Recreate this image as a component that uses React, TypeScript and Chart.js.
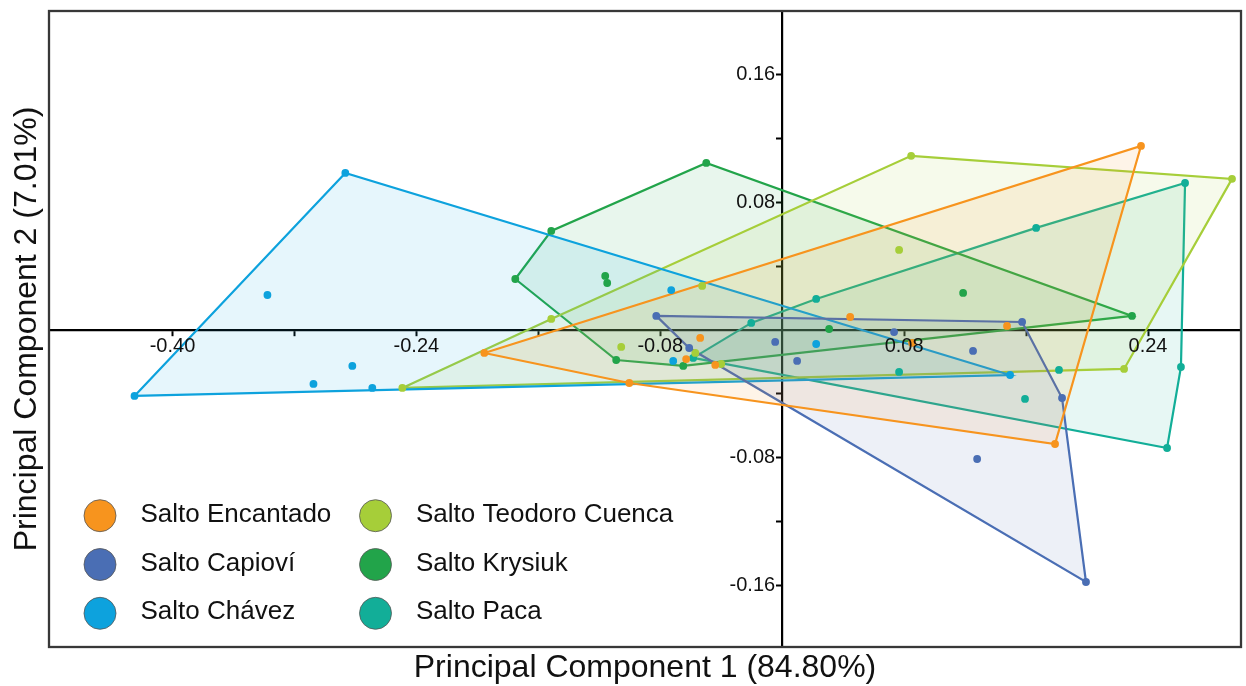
import { useEffect, useRef } from 'react';
import { Chart, registerables } from 'chart.js';

Chart.register(...registerables);

const FONT = '"Liberation Sans", Arial, Helvetica, sans-serif';

const GROUPS = ['Salto Encantado', 'Salto Capioví', 'Salto Chávez', 'Salto Teodoro Cuenca', 'Salto Krysiuk', 'Salto Paca'];
const COLORS = ['#F7941E', '#4A6EB4', '#0DA2DD', '#A6CE39', '#22A44A', '#12AE98'];

const ENCANTADO_PC1 = [0.2354, -0.1954, -0.1003, 0.1790, -0.0538, -0.0630, -0.0439, 0.0446, 0.1475, 0.0852];
const ENCANTADO_PC2 = [0.1152, -0.0144, -0.0332, -0.0714, -0.0050, -0.0182, -0.0219, 0.0081, 0.0025, -0.0081];

const CAPIOVI_PC1 = [-0.0826, -0.0610, -0.0046, 0.0098, 0.0734, 0.1252, 0.1574, 0.1836, 0.1279, 0.1993];
const CAPIOVI_PC2 = [0.0088, -0.0113, -0.0075, -0.0194, -0.0013, -0.0131, 0.0050, -0.0426, -0.0808, -0.1578];

const CHAVEZ_PC1 = [-0.2866, -0.3377, -0.4249, -0.3075, -0.2820, -0.2689, -0.0728, -0.0715, 0.0223, 0.1495];
const CHAVEZ_PC2 = [0.0983, 0.0219, -0.0413, -0.0338, -0.0225, -0.0363, 0.0250, -0.0194, -0.0088, -0.0282];

const TEODORO_PC1 = [0.0846, 0.2951, 0.2243, -0.2492, -0.1515, -0.0525, -0.1056, -0.0570, -0.0400, 0.0767];
const TEODORO_PC2 = [0.1090, 0.0946, -0.0244, -0.0363, 0.0069, 0.0276, -0.0106, -0.0144, -0.0213, 0.0501];

const KRYSIUK_PC1 = [-0.0498, -0.1515, -0.1751, -0.1161, -0.1148, -0.1089, -0.0649, 0.2295, 0.0308, 0.1187];
const KRYSIUK_PC2 = [0.1046, 0.0620, 0.0319, 0.0338, 0.0294, -0.0188, -0.0225, 0.0088, 0.0006, 0.0232];

const PACA_PC1 = [0.2643, 0.1666, 0.0223, -0.0203, -0.0584, 0.2616, 0.2525, 0.0767, 0.1816, 0.1593];
const PACA_PC2 = [0.0920, 0.0639, 0.0194, 0.0044, -0.0175, -0.0232, -0.0739, -0.0263, -0.0250, -0.0432];

const GROUP_PC1 = [ENCANTADO_PC1, CAPIOVI_PC1, CHAVEZ_PC1, TEODORO_PC1, KRYSIUK_PC1, PACA_PC1];
const GROUP_PC2 = [ENCANTADO_PC2, CAPIOVI_PC2, CHAVEZ_PC2, TEODORO_PC2, KRYSIUK_PC2, PACA_PC2];

const X_MIN = -0.481;
const X_MAX = 0.301;
const Y_MIN = -0.1985;
const Y_MAX = 0.1997;

const X_TICKS = [-0.40, -0.32, -0.24, -0.16, -0.08, 0.08, 0.16, 0.24];
const X_TICK_LABELS = ['-0.40', '', '-0.24', '', '-0.08', '0.08', '', '0.24'];
const Y_TICKS = [-0.16, -0.12, -0.08, -0.04, 0.04, 0.08, 0.12, 0.16];
const Y_TICK_LABELS = ['-0.16', '', '-0.08', '', '', '0.08', '', '0.16'];

const X_TITLE = 'Principal Component 1 (84.80%)';
const Y_TITLE = 'Principal Component 2 (7.01%)';

// PC1 value where the right edge of the PC2 tick labels sits (just left of the PC2 axis line)
const Y_LABEL_ANCHOR = -0.0046;

type P = { x: number; y: number };

function convexHull(xs: number[], ys: number[]): P[] {
  const pts: P[] = xs.map((x, i) => ({ x, y: ys[i] })).sort((a, b) => a.x - b.x || a.y - b.y);
  const cross = (o: P, a: P, b: P) => (a.x - o.x) * (b.y - o.y) - (a.y - o.y) * (b.x - o.x);
  const lower: P[] = [];
  for (const p of pts) {
    while (lower.length >= 2 && cross(lower[lower.length - 2], lower[lower.length - 1], p) <= 0) lower.pop();
    lower.push(p);
  }
  const upper: P[] = [];
  for (const p of pts.slice().reverse()) {
    while (upper.length >= 2 && cross(upper[upper.length - 2], upper[upper.length - 1], p) <= 0) upper.pop();
    upper.push(p);
  }
  lower.pop();
  upper.pop();
  const h = lower.concat(upper);
  h.push({ ...h[0] });
  return h;
}

function rgba(hex: string, a: number) {
  const n = parseInt(hex.slice(1), 16);
  return `rgba(${(n >> 16) & 255},${(n >> 8) & 255},${n & 255},${a})`;
}

const framePlugin = {
  id: 'frame',
  afterDraw(chart: any) {
    const { ctx, chartArea: a } = chart;
    ctx.save();
    ctx.strokeStyle = '#383838';
    ctx.lineWidth = 2.3;
    ctx.strokeRect(a.left, a.top, a.right - a.left, a.bottom - a.top);
    ctx.restore();
  },
};

const legendPlugin = {
  id: 'pcaLegend',
  afterDraw(chart: any) {
    const { ctx, chartArea: a } = chart;
    const items = chart.data.datasets.filter((d: any) => d.type === 'scatter');
    ctx.save();
    items.forEach((d: any, i: number) => {
      const col = Math.floor(i / 3);
      const row = i % 3;
      const cx = a.left + 51 + col * 275.5;
      const cy = a.bottom - 131.3 + row * 48.8;
      ctx.beginPath();
      ctx.arc(cx, cy, 16, 0, Math.PI * 2);
      ctx.fillStyle = d.backgroundColor;
      ctx.fill();
      ctx.lineWidth = 0.8;
      ctx.strokeStyle = '#555';
      ctx.stroke();
      ctx.font = `26px ${FONT}`;
      ctx.fillStyle = '#111';
      ctx.textBaseline = 'middle';
      ctx.textAlign = 'left';
      ctx.fillText(d.label, cx + 40.5, cy - 1);
    });
    ctx.restore();
  },
};

export default function App() {
  const ref = useRef<HTMLCanvasElement | null>(null);

  useEffect(() => {
    if (!ref.current) return;
    const hullSets = GROUPS.map((g, i) => ({
      type: 'line' as const,
      label: g + ' hull',
      data: convexHull(GROUP_PC1[i], GROUP_PC2[i]),
      borderColor: COLORS[i],
      backgroundColor: rgba(COLORS[i], 0.1),
      borderWidth: 2.2,
      fill: 'shape' as any,
      pointRadius: 0,
      tension: 0,
      order: 1,
      xAxisID: 'x',
      yAxisID: 'y',
    }));
    const pointSets = GROUPS.map((g, i) => ({
      type: 'scatter' as const,
      label: g,
      data: GROUP_PC1[i].map((x, j) => ({ x, y: GROUP_PC2[i][j] })),
      backgroundColor: COLORS[i],
      borderColor: COLORS[i],
      borderWidth: 0,
      pointRadius: 3.9,
      order: 0,
      xAxisID: 'x',
      yAxisID: 'y',
    }));

    const tickFont = { size: 20, family: FONT };
    const titleFont = { size: 32, family: FONT, lineHeight: 1.1 };

    const chart = new Chart(ref.current, {
      type: 'scatter',
      data: { datasets: [...pointSets, ...hullSets] as any },
      options: {
        animation: false,
        responsive: false,
        events: [],
        layout: { padding: { top: 11, right: 5, bottom: 0, left: 0 } },
        plugins: { legend: { display: false }, tooltip: { enabled: false } },
        scales: {
          x: {
            type: 'linear',
            min: X_MIN,
            max: X_MAX,
            position: { y: 0 } as any,
            afterBuildTicks: (s: any) => { s.ticks = X_TICKS.map((v) => ({ value: v })); },
            afterFit: (s: any) => { s.height = 0; s.paddingLeft = 0; s.paddingRight = 0; },
            ticks: {
              autoSkip: false, maxRotation: 0, minRotation: 0, padding: 0, color: '#111', font: tickFont, z: 1,
              callback: (_v: any, idx: number) => X_TICK_LABELS[idx] ?? '',
            },
            grid: { display: true, drawOnChartArea: false, drawTicks: true, tickLength: 5, tickWidth: 2, tickColor: '#000' },
            border: { display: true, color: '#000', width: 2.2 },
          },
          y: {
            type: 'linear',
            min: Y_MIN,
            max: Y_MAX,
            position: { x: 0 } as any,
            afterBuildTicks: (s: any) => { s.ticks = Y_TICKS.map((v) => ({ value: v })); },
            afterFit: (s: any) => { s.width = 0; s.paddingTop = 0; s.paddingBottom = 0; },
            ticks: { display: false },
            grid: { display: true, drawOnChartArea: false, drawTicks: true, tickLength: 5, tickWidth: 2, tickColor: '#000' },
            border: { display: true, color: '#000', width: 2.2 },
          },
          yt: {
            type: 'linear',
            axis: 'y',
            min: Y_MIN,
            max: Y_MAX,
            position: { x: Y_LABEL_ANCHOR } as any,
            afterBuildTicks: (s: any) => { s.ticks = Y_TICKS.map((v) => ({ value: v })); },
            afterFit: (s: any) => { s.width = 0; s.paddingTop = 0; s.paddingBottom = 0; },
            ticks: {
              autoSkip: false, padding: 0, color: '#111', font: tickFont, z: 1,
              callback: (_v: any, idx: number) => Y_TICK_LABELS[idx] ?? '',
            },
            grid: { display: false, drawTicks: false },
            border: { display: false },
          },
          xb: {
            type: 'linear',
            axis: 'x',
            position: 'bottom',
            min: X_MIN,
            max: X_MAX,
            ticks: { display: false },
            grid: { display: false, drawTicks: false },
            border: { display: false },
            title: { display: true, text: X_TITLE, color: '#111', font: titleFont, padding: { top: 3.8, bottom: 0 } },
          },
          yl: {
            type: 'linear',
            axis: 'y',
            position: 'left',
            min: Y_MIN,
            max: Y_MAX,
            ticks: { display: false },
            grid: { display: false, drawTicks: false },
            border: { display: false },
            title: { display: true, text: Y_TITLE, color: '#111', font: titleFont, padding: { top: 9.4, bottom: 4.4 } },
          },
        } as any,
      },
      plugins: [framePlugin, legendPlugin],
    });
    return () => chart.destroy();
  }, []);

  return (
    <div style={{ position: 'absolute', left: 0, top: 0, width: 1246, height: 686, background: '#fff' }}>
      <canvas ref={ref} width={1246} height={686} style={{ display: 'block' }} />
    </div>
  );
}
